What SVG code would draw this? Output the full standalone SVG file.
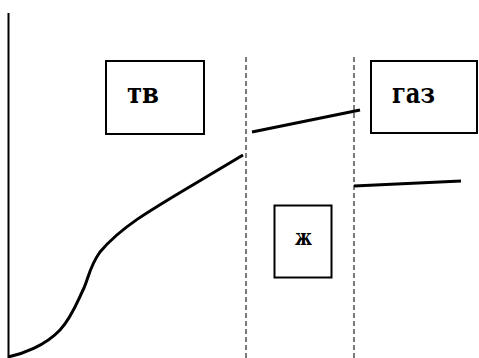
<svg xmlns="http://www.w3.org/2000/svg" width="479" height="358" viewBox="0 0 479 358">
  <style>
    .box { fill: #fff; stroke: #000; stroke-width: 2; }
    .lbl { font-family: "DejaVu Serif", "Liberation Serif", serif; font-weight: 700; fill: #000; }
    .axis { stroke: #000; stroke-width: 2; fill: none; }
    .phase { stroke: #444; stroke-width: 1.4; stroke-dasharray: 5 3; fill: none; }
    .curve { stroke: #000; stroke-width: 3; fill: none; stroke-linecap: butt; }
  </style>
  <rect width="479" height="358" fill="#fff"/>

  <!-- axis and phase boundaries -->
  <g id="frame">
    <line class="axis" x1="8.5" y1="13" x2="8.5" y2="358"/>
    <line class="phase" x1="246" y1="57" x2="246" y2="358"/>
    <line class="phase" x1="354" y1="57" x2="354" y2="358"/>
  </g>

  <!-- curve segments -->
  <g id="connectors">
    <path class="curve" d="M8,357 C22,354 45,346 60,330 C72,317 78,300 84,288 C89,276 90,266 100,252 C125,222 160,205 243,155"/>
    <line class="curve" x1="252" y1="132" x2="360" y2="110"/>
    <line class="curve" x1="354" y1="186" x2="461" y2="181"/>
  </g>

  <g id="solid">
    <rect class="box" x="106" y="61" width="98" height="73"/>
    <text class="lbl" x="127" y="103" font-size="27" textLength="32" lengthAdjust="spacingAndGlyphs">тв</text>
  </g>

  <g id="gas">
    <rect class="box" x="371" y="61" width="106" height="72"/>
    <text class="lbl" x="392" y="103" font-size="27" textLength="43" lengthAdjust="spacingAndGlyphs">газ</text>
  </g>

  <g id="liquid">
    <rect class="box" x="274.5" y="205.5" width="57" height="72"/>
    <text class="lbl" x="295" y="245" font-size="23" textLength="17" lengthAdjust="spacingAndGlyphs">ж</text>
  </g>
</svg>
